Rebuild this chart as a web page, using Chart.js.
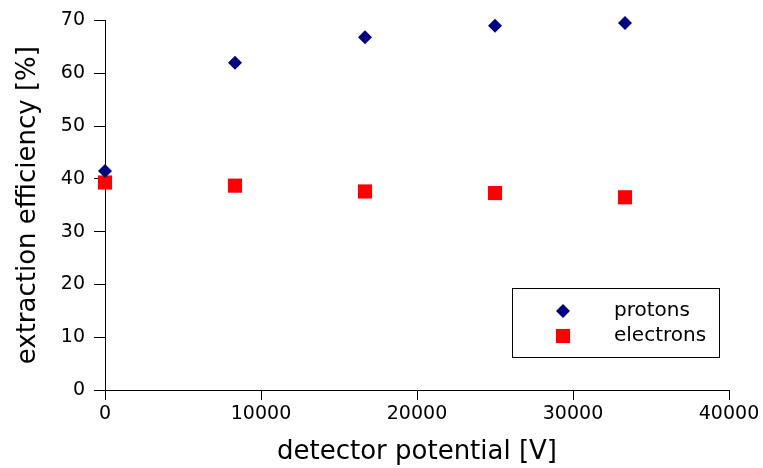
<!DOCTYPE html>
<html>
<head>
<meta charset="utf-8">
<script src="https://cdn.jsdelivr.net/npm/chart.js@4/dist/chart.umd.min.js"></script>
<style>
html,body{margin:0;padding:0;background:#fff;}
#wrap{width:763px;height:468px;position:relative;}
</style>
</head>
<body>
<div id="wrap"><canvas id="c" width="763" height="468"></canvas></div>
<script>
const potentials = [0, 8333, 16667, 25000, 33333];
const protons = [41.5, 62.0, 66.8, 69.0, 69.5];
const electrons = [39.3, 38.7, 37.6, 37.3, 36.5];
const seriesNames = ['protons', 'electrons'];
const xTicks = [0, 10000, 20000, 30000, 40000];
const yTicks = [0, 10, 20, 30, 40, 50, 60, 70];

const toPts = (ys) => potentials.map((x, i) => ({x: x, y: ys[i]}));

const legendBox = {
  id: 'legendBox',
  afterDraw(chart) {
    const ctx = chart.ctx;
    const x0 = 512.5, y0 = 288.5, w = 207, h = 69;
    ctx.save();
    ctx.fillStyle = '#fff';
    ctx.fillRect(x0, y0, w, h);
    ctx.strokeStyle = '#000';
    ctx.lineWidth = 1;
    ctx.strokeRect(x0, y0, w, h);
    const rows = [311, 336];
    const mx = 563;
    chart.data.datasets.forEach((ds, i) => {
      ctx.fillStyle = ds.backgroundColor;
      ctx.beginPath();
      if (ds.pointStyle === 'rectRot') {
        const r = ds.pointRadius;
        ctx.moveTo(mx, rows[i]-r); ctx.lineTo(mx+r, rows[i]); ctx.lineTo(mx, rows[i]+r); ctx.lineTo(mx-r, rows[i]);
      } else {
        const s = ds.pointRadius * Math.SQRT1_2;
        ctx.rect(mx - s, rows[i] - s, 2*s, 2*s);
      }
      ctx.closePath();
      ctx.fill();
      ctx.fillStyle = '#000';
      ctx.font = '20px "DejaVu Sans"';
      ctx.textBaseline = 'middle';
      ctx.textAlign = 'left';
      ctx.fillText(ds.label, 614, rows[i]);
    });
    ctx.restore();
  }
};

new Chart(document.getElementById('c'), {
  type: 'scatter',
  data: {
    datasets: [
      {label: seriesNames[0], data: toPts(protons), pointStyle: 'rectRot', pointRadius: 7,
       backgroundColor: '#000080', borderColor: '#000080', borderWidth: 0, pointHoverRadius: 7, clip: false},
      {label: seriesNames[1], data: toPts(electrons), pointStyle: 'rect', pointRadius: 10,
       backgroundColor: '#ff0000', borderColor: '#ff0000', borderWidth: 0, pointHoverRadius: 10, clip: false}
    ]
  },
  options: {
    responsive: false,
    animation: false,
    events: [],
    layout: {padding: {top: 19, right: 34, left: 0, bottom: 0}},
    plugins: {legend: {display: false}, tooltip: {enabled: false}},
    scales: {
      x: {
        type: 'linear', min: 0, max: 40000,
        afterBuildTicks: (s) => { s.ticks = xTicks.map(v => ({value: v})); },
        afterFit: (s) => { s.height = 78; },
        grid: {display: true, drawOnChartArea: false, drawTicks: true, tickLength: 10, tickColor: '#000', color: '#000'},
        border: {display: true, color: '#000', width: 1},
        ticks: {color: '#000', font: {family: '"DejaVu Sans"', size: 19}, padding: 3, maxRotation: 0,
                callback: (v) => String(v)},
        title: {display: true, text: 'detector potential [V]', color: '#000',
                font: {family: '"DejaVu Sans"', size: 26}, padding: {top: 1, bottom: 0}}
      },
      y: {
        type: 'linear', min: 0, max: 70,
        afterBuildTicks: (s) => { s.ticks = yTicks.map(v => ({value: v})); },
        afterFit: (s) => { s.width = 105; },
        grid: {display: true, drawOnChartArea: false, drawTicks: true, tickLength: 11, tickColor: '#000', color: '#000'},
        border: {display: true, color: '#000', width: 1},
        ticks: {color: '#000', font: {family: '"DejaVu Sans"', size: 19}, padding: 9},
        title: {display: true, text: 'extraction efficiency [%]', color: '#000',
                font: {family: '"DejaVu Sans"', size: 26}, padding: {top: 13, bottom: 0}}
      }
    }
  },
  plugins: [legendBox]
});
</script>
</body>
</html>
